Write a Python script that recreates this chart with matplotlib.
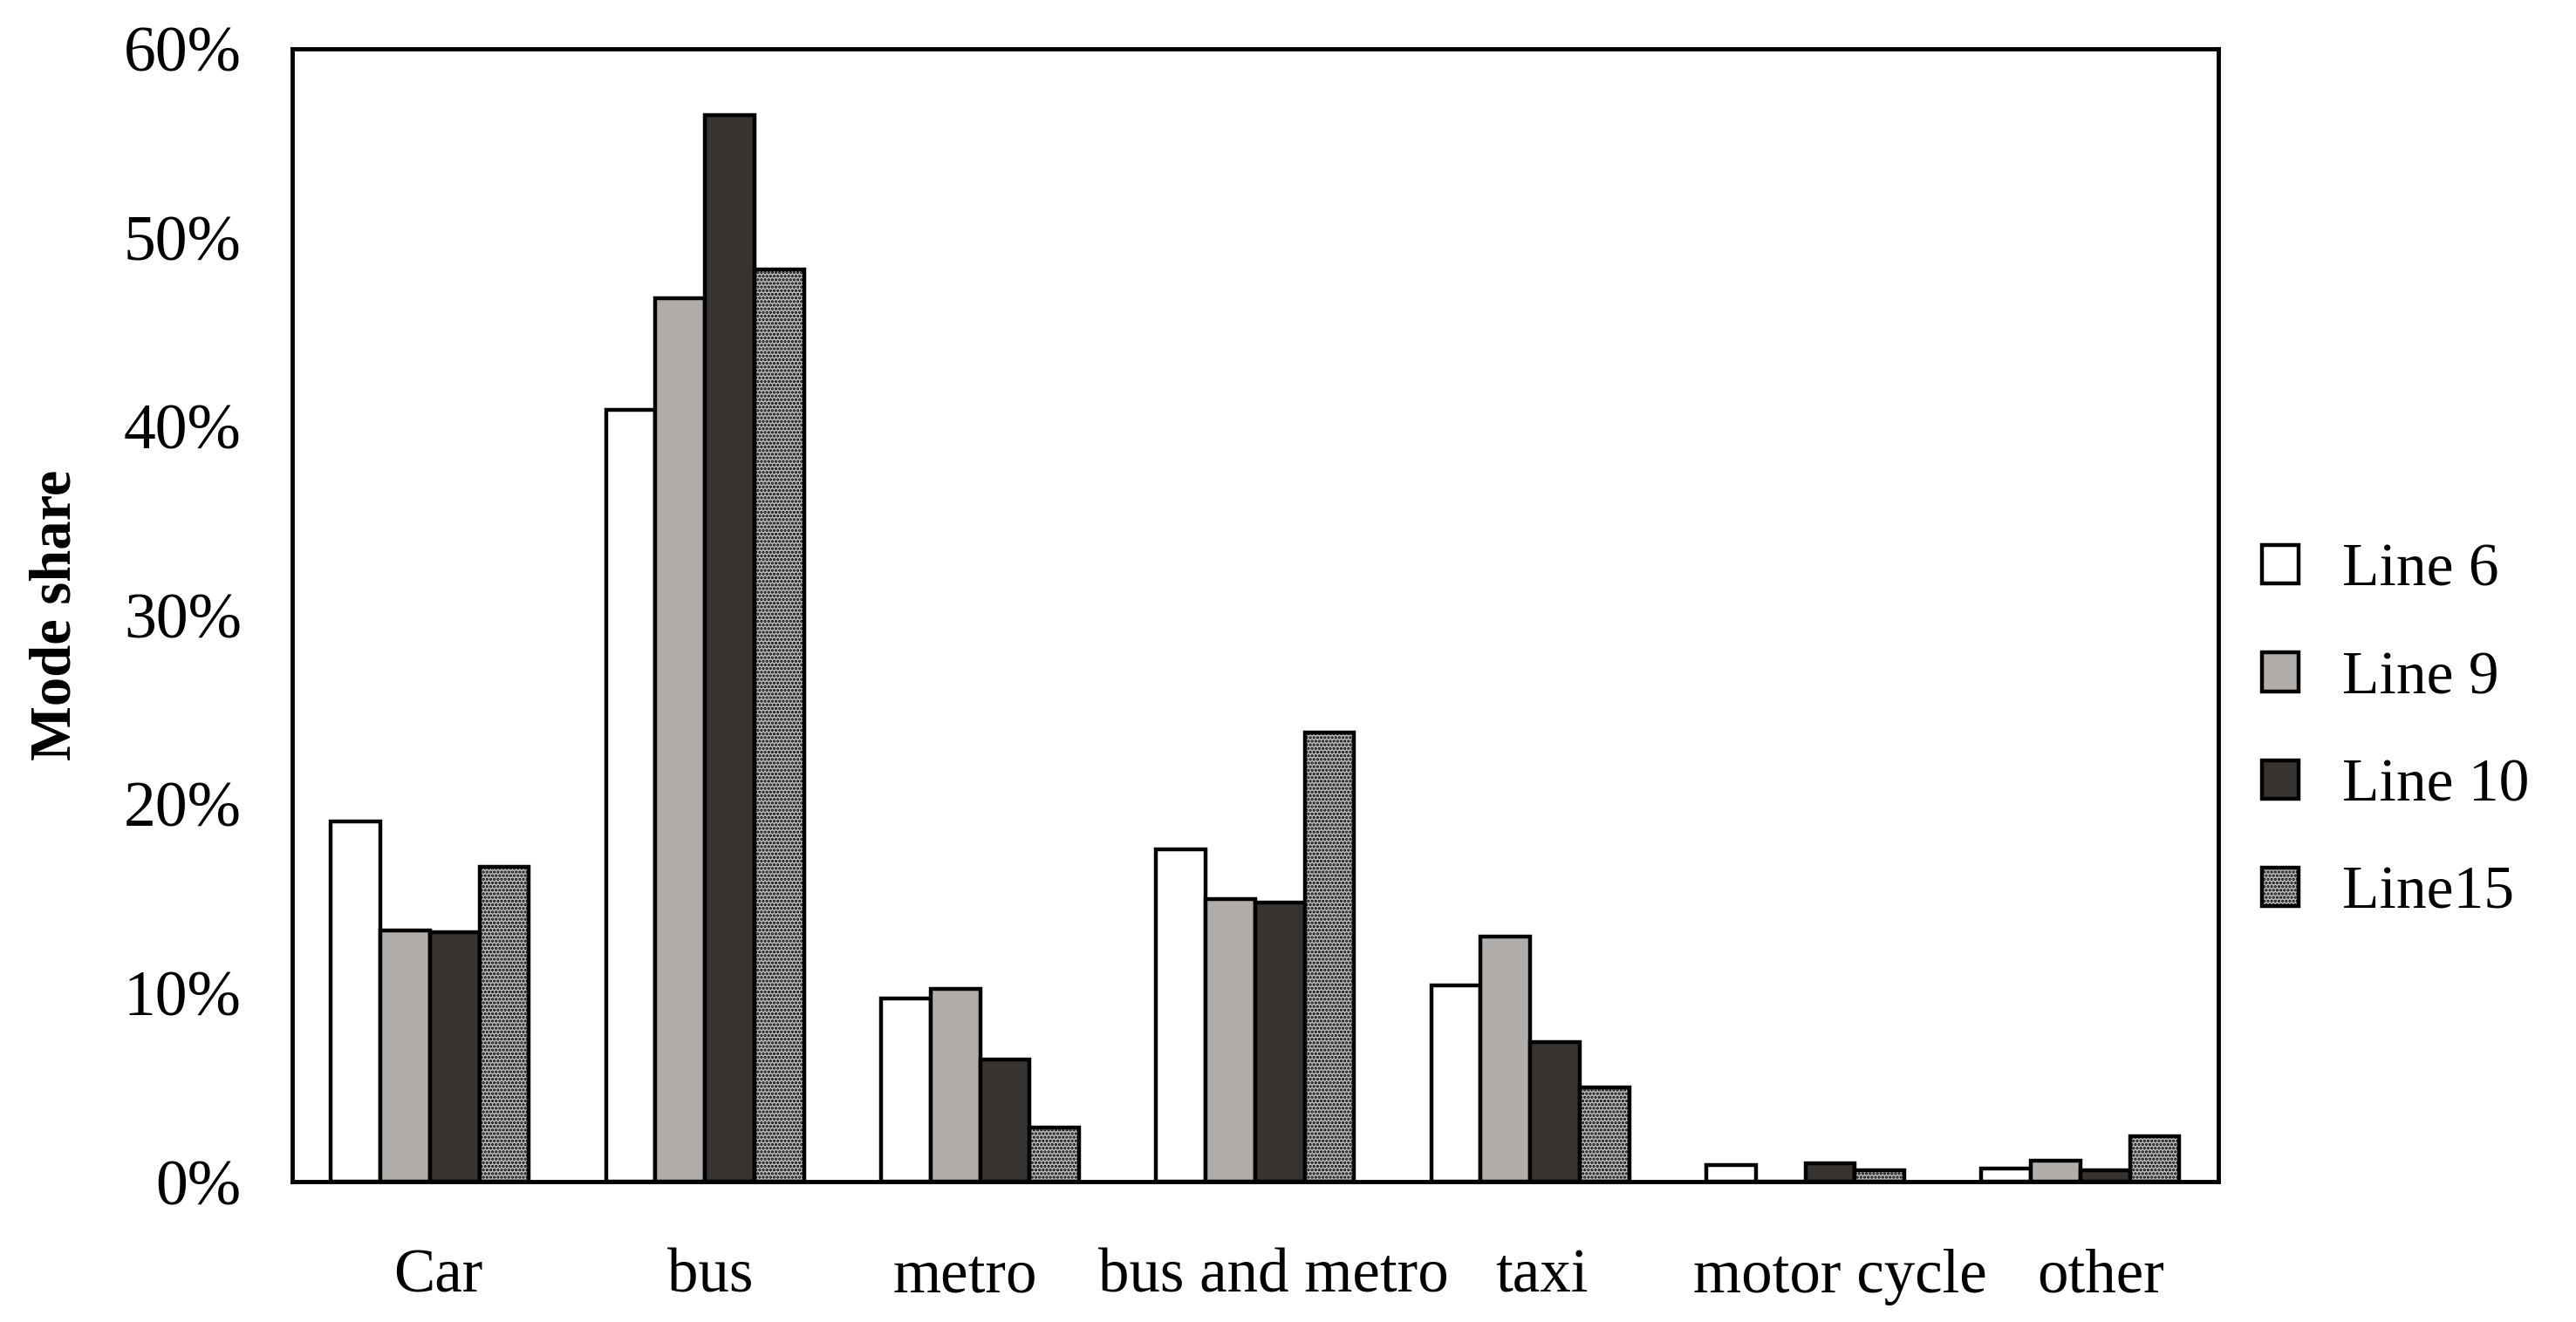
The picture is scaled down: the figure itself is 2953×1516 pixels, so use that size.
import numpy as np
import matplotlib.pyplot as plt
import matplotlib.transforms as mtransforms
from matplotlib.ticker import PercentFormatter

plt.rcParams['font.family'] = ['Liberation Serif', 'DejaVu Serif']
plt.rcParams['hatch.linewidth'] = 1.6

modes = ["Car", "bus", "metro", "bus and metro", "taxi", "motor cycle", "other"]
series = ["Line 6", "Line 9", "Line 10", "Line15"]

line6 = [19.1, 40.9, 9.7, 17.6, 10.4, 0.9, 0.7]
line9 = [13.3, 46.8, 10.2, 15.0, 13.0, 0.0, 1.1]
line10 = [13.2, 56.5, 6.5, 14.8, 7.4, 1.0, 0.6]
line15 = [16.7, 48.3, 2.9, 23.8, 5.0, 0.6, 2.4]
values = [line6, line9, line10, line15]

fills = ['white', '#b0adab', '#363331', '#bdbdbd']
hatches = [None, None, None, '....']
# the category labels in the original sit a little off their group centres
label_nudge = [9, 6, -17, 21, 13, 40, 23]  # pixels

fig = plt.figure(figsize=(29.53, 15.16), dpi=100)
ax = fig.add_axes([0.1135, 0.106, 0.7475, 0.857])

x = np.arange(len(modes))
w = 0.18
for i, (name, vals) in enumerate(zip(series, values)):
    ax.bar(x + (i - 1.5) * w, vals, w, label=name, color=fills[i],
           edgecolor='black', linewidth=3.2, hatch=hatches[i])

ax.set_xlim(-0.5, 6.5)
ax.set_ylim(0, 60)
ax.set_yticks(np.arange(0, 61, 10))
ax.yaxis.set_major_formatter(PercentFormatter(decimals=0))
ax.set_xticks(x)
ax.set_xticklabels(modes)
ax.tick_params(axis='y', length=0, labelsize=53, pad=42)
ax.tick_params(axis='x', length=0, labelsize=51, pad=55)
for lab, dx in zip(ax.get_xticklabels(), label_nudge):
    lab.set_transform(lab.get_transform() +
                      mtransforms.ScaledTranslation(dx / 100, 0, fig.dpi_scale_trans))
for s in ax.spines.values():
    s.set_linewidth(3.5)

ax.set_ylabel("Mode share", fontsize=48, fontweight='bold', labelpad=34)

fig.legend(loc='center left', bbox_to_anchor=(0.857, 0.446), frameon=False,
           fontsize=50, handlelength=0.6, handleheight=0.6,
           handletextpad=0.72, labelspacing=0.86)

fig.savefig('out.png', dpi=100)
